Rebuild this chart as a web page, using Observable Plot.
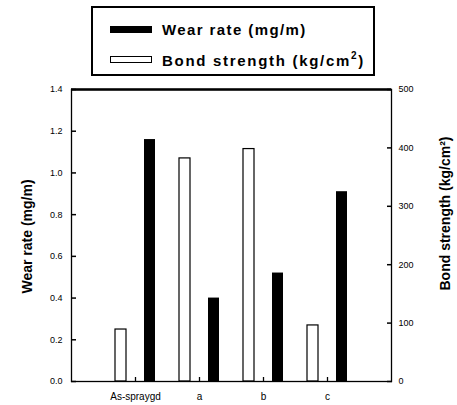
<!DOCTYPE html>
<html>
<head>
<meta charset="utf-8">
<script src="https://cdn.jsdelivr.net/npm/d3@7"></script>
<script src="https://cdn.jsdelivr.net/npm/@observablehq/plot@0.6"></script>
<style>
  body { margin: 0; background: #fff; }
  #wrap { position: relative; width: 457px; height: 405px; font-family: "Liberation Sans", Arial, sans-serif; }
  #legend { position: absolute; left: 91px; top: 6px; width: 280px; height: 66px; border: 2px solid #000; background: #fff; }
  .item { position: absolute; left: 17px; display: flex; align-items: center; font-weight: bold; font-size: 15px; color: #000; white-space: nowrap; }
  .sw { width: 42px; height: 7px; margin-right: 10px; box-sizing: border-box; border: 1.5px solid #000; }
</style>
</head>
<body>
<div id="wrap">
  <div id="chart"></div>
  <div id="legend">
    <div class="item" style="top:13px"><div class="sw" style="background:#000"></div><span style="letter-spacing:1.4px">Wear rate (mg/m)</span></div>
    <div class="item" style="top:42px"><div class="sw" style="background:#fff"></div><span style="letter-spacing:1.7px">Bond strength (kg/cm<sup style="font-size:10px;vertical-align:7px">2</sup>)</span></div>
  </div>
</div>
<script>
const categories = ["As-spraygd", "a", "b", "c"];
const wearRate = [1.16, 0.40, 0.52, 0.91];      // mg/m
const bondStrength = [89, 382, 398, 96];        // kg/cm²
const wearTicks = [0, 0.2, 0.4, 0.6, 0.8, 1.0, 1.2, 1.4];
const bondTicks = [0, 100, 200, 300, 400, 500];
const wearMax = 1.4, bondMax = 500;
const toWear = b => b * wearMax / bondMax;

const data = categories.map((c, i) => ({cat: c, wear: wearRate[i], bond: bondStrength[i]}));

const chart = Plot.plot({
  width: 457,
  height: 405,
  marginTop: 89,
  marginBottom: 24,
  marginLeft: 71,
  marginRight: 66,
  style: {fontFamily: "'Liberation Sans', Arial, sans-serif", fontSize: "9px", color: "#000", background: "#fff"},
  x: {domain: categories, paddingInner: 0, paddingOuter: 0.5},
  y: {domain: [0, wearMax]},
  marks: [
    Plot.barY(data, {x: "cat", y: d => toWear(d.bond), fill: "#fff", stroke: "#000", strokeWidth: 1.2, insetLeft: 12, insetRight: 41}),
    Plot.barY(data, {x: "cat", y: "wear", fill: "#000", insetLeft: 41, insetRight: 12}),
    Plot.frame({stroke: "#000", strokeWidth: 1.3}),
    Plot.ruleY([wearMax], {stroke: "#000", strokeWidth: 2.5}),
    Plot.axisX({tickSize: 4, dy: -4, tickPadding: 11, label: null, fontSize: 10, stroke: "#000", strokeWidth: 1.3}),
    Plot.axisY({anchor: "left", ticks: wearTicks, tickFormat: d3.format(".1f"), tickSize: 5, dx: 5, tickPadding: 9, strokeWidth: 1.5, stroke: "#000", label: null}),
    Plot.axisY({anchor: "right", ticks: bondTicks.map(toWear), tickFormat: v => String(Math.round(v * bondMax / wearMax)), tickSize: 5, dx: -5, tickPadding: 7, strokeWidth: 1.5, stroke: "#000", label: null}),
    Plot.text(["Wear rate (mg/m)"], {frameAnchor: "left", textAnchor: "middle", dx: -44, dy: 1, rotate: -90, fontSize: 14, fontWeight: "bold", text: d => d}),
    Plot.text(["Bond strength (kg/cm²)"], {frameAnchor: "right", textAnchor: "middle", dx: 54, dy: -22, rotate: -90, fontSize: 14, fontWeight: "bold", text: d => d})
  ]
});
document.getElementById("chart").appendChild(chart);
</script>
</body>
</html>
